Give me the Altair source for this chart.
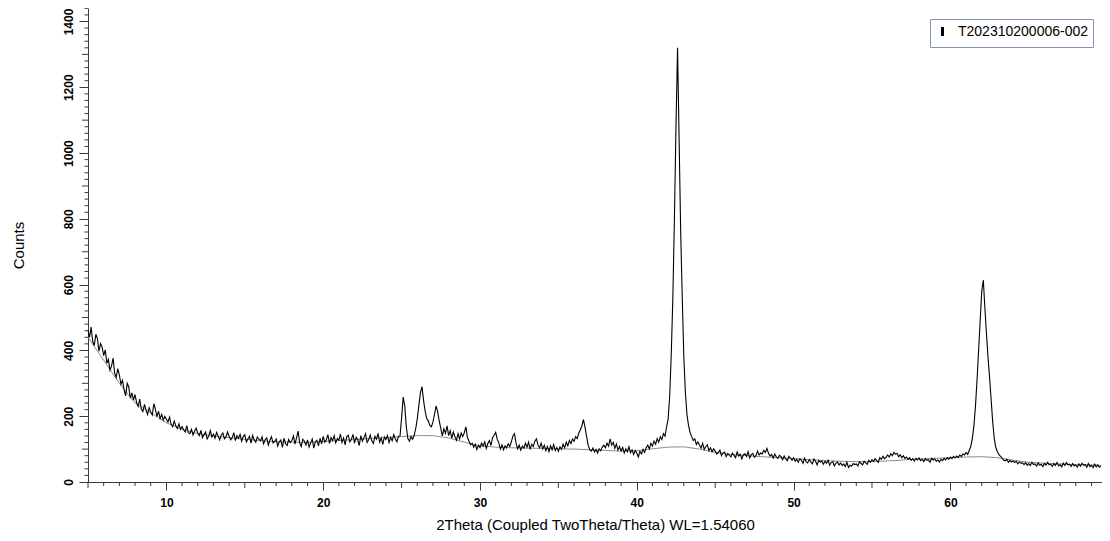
import altair as alt
import pandas as pd

SERIES_NAME = "T202310200006-002"

# measured counts, one row per degree (2Theta from 5.0 in steps of 0.1)
counts_rows = [
    [462, 440, 471, 428, 415, 449, 436, 398, 421, 410],  # 5
    [384, 402, 361, 373, 340, 352, 377, 331, 318, 345],  # 6
    [326, 297, 309, 281, 262, 300, 289, 255, 271, 249],  # 7
    [266, 241, 230, 252, 222, 214, 236, 219, 205, 226],  # 8
    [213, 204, 238, 221, 199, 215, 193, 206, 188, 200],  # 9
    [191, 182, 197, 176, 168, 185, 171, 163, 177, 160],  # 10
    [168, 159, 152, 171, 150, 147, 160, 143, 155, 164],  # 11
    [149, 141, 157, 135, 144, 152, 131, 140, 156, 137],  # 12
    [146, 133, 151, 140, 128, 143, 149, 131, 137, 152],  # 13
    [139, 128, 135, 150, 126, 141, 133, 145, 124, 138],  # 14
    [144, 122, 131, 139, 118, 142, 128, 121, 137, 130],  # 15
    [125, 137, 116, 129, 134, 112, 127, 138, 119, 123],  # 16
    [131, 109, 122, 128, 105, 133, 117, 111, 129, 120],  # 17
    [126, 140, 115, 134, 155, 119, 108, 130, 124, 112],  # 18
    [128, 106, 119, 131, 103, 122, 127, 110, 133, 116],  # 19
    [139, 121, 128, 144, 117, 135, 126, 141, 119, 132],  # 20
    [127, 146, 120, 134, 113, 138, 142, 122, 130, 145],  # 21
    [118, 136, 129, 111, 141, 124, 135, 147, 120, 128],  # 22
    [143, 125, 117, 139, 130, 148, 121, 134, 114, 137],  # 23
    [129, 141, 120, 136, 125, 144, 131, 122, 139, 140],  # 24
    [195, 258, 232, 168, 132, 124, 138, 130, 142, 162],  # 25
    [192, 232, 271, 290, 248, 216, 193, 186, 172, 168],  # 26
    [182, 206, 231, 214, 186, 163, 140, 162, 148, 171],  # 27
    [141, 156, 133, 152, 138, 127, 147, 131, 149, 138],  # 28
    [150, 168, 135, 124, 113, 118, 106, 115, 99, 112],   # 29
    [104, 118, 109, 122, 102, 117, 126, 111, 135, 142],  # 30
    [151, 130, 119, 100, 113, 98, 110, 104, 116, 108],   # 31
    [122, 140, 147, 118, 101, 112, 97, 109, 103, 118],   # 32
    [106, 121, 99, 115, 108, 124, 131, 112, 104, 118],   # 33
    [100, 112, 95, 108, 92, 110, 98, 114, 96, 105],      # 34
    [93, 107, 99, 115, 104, 121, 110, 126, 117, 131],    # 35
    [124, 138, 132, 149, 158, 171, 190, 166, 138, 112],  # 36
    [98, 94, 103, 91, 99, 88, 101, 95, 106, 112],        # 37
    [104, 118, 109, 131, 112, 120, 102, 116, 97, 108],   # 38
    [94, 105, 88, 101, 92, 107, 89, 98, 84, 96],         # 39
    [88, 76, 93, 85, 99, 90, 104, 112, 101, 118],        # 40
    [109, 124, 115, 132, 121, 138, 129, 147, 139, 168],  # 41
    [192, 262, 390, 560, 800, 1080, 1320, 1040, 760, 560],  # 42
    [380, 272, 205, 172, 150, 138, 126, 131, 114, 122],  # 43
    [112, 103, 118, 99, 108, 113, 95, 104, 92, 101],     # 44
    [94, 85, 90, 97, 80, 88, 91, 77, 86, 82],            # 45
    [76, 88, 81, 74, 91, 79, 84, 70, 83, 86],            # 46
    [78, 92, 73, 83, 87, 75, 80, 94, 82, 88],            # 47
    [85, 96, 90, 102, 87, 79, 84, 73, 85, 76],           # 48
    [72, 81, 77, 68, 79, 70, 65, 78, 73, 66],            # 49
    [74, 63, 69, 60, 71, 66, 57, 72, 62, 58],            # 50
    [68, 61, 55, 70, 63, 52, 66, 60, 64, 54],            # 51
    [63, 57, 66, 51, 59, 62, 49, 57, 61, 52],            # 52
    [58, 50, 55, 47, 60, 44, 51, 48, 56, 53],            # 53
    [55, 49, 61, 57, 52, 63, 58, 54, 66, 60],            # 54
    [68, 62, 71, 66, 60, 74, 69, 78, 71, 75],            # 55
    [82, 76, 86, 80, 90, 84, 87, 77, 83, 74],            # 56
    [80, 72, 76, 69, 74, 66, 71, 64, 72, 67],            # 57
    [73, 65, 69, 62, 71, 66, 68, 60, 72, 67],            # 58
    [70, 63, 67, 61, 69, 65, 72, 67, 74, 69],            # 59
    [76, 71, 78, 73, 79, 75, 82, 78, 85, 82],            # 60
    [90, 84, 96, 108, 132, 170, 230, 310, 400, 490],     # 61
    [580, 614, 530, 452, 380, 318, 250, 182, 132, 104],  # 62
    [92, 83, 78, 73, 66, 64, 69, 60, 66, 61],            # 63
    [64, 59, 63, 55, 61, 57, 58, 53, 59, 51],            # 64
    [56, 50, 60, 53, 55, 48, 58, 51, 54, 47],            # 65
    [57, 51, 60, 52, 54, 47, 56, 50, 59, 49],            # 66
    [53, 46, 57, 50, 59, 52, 54, 47, 56, 49],            # 67
    [52, 45, 55, 48, 57, 51, 53, 45, 56, 47],            # 68
    [51, 44, 54, 46, 52, 45, 49],                        # 69
]
theta_start = 5.0
theta_step = 0.1

# fitted background curve
bg_theta = [5, 6, 7, 8, 9, 10, 11, 12, 13, 14, 15, 16, 17, 18, 19, 20, 21, 22,
            23, 24, 25, 26, 27, 28, 29, 30, 31, 32, 33, 34, 35, 36, 37, 38, 39,
            40, 41, 42, 43, 44, 45, 46, 47, 48, 49, 50, 51, 52, 53, 54, 55, 56,
            57, 58, 59, 60, 61, 62, 63, 64, 65, 66, 67, 68, 69, 69.6]
bg_counts = [440, 370, 300, 240, 210, 180, 160, 147, 140, 135, 130, 126, 122,
             121, 120, 123, 126, 129, 132, 135, 138, 141, 141, 134, 121, 110,
             106, 104, 103, 102, 101, 100, 98, 96, 94, 95, 101, 106, 107, 100,
             90, 84, 80, 77, 74, 71, 68, 65, 63, 62, 62, 64, 67, 70, 72, 74, 76,
             77, 74, 66, 60, 57, 55, 53, 52, 51]

x_label_values = [10, 20, 30, 40, 50, 60]
y_label_values = [0, 200, 400, 600, 800, 1000, 1200, 1400]
x_minor_ticks = [v for v in range(6, 70) if v % 5 != 0]
x_mid_ticks = [5, 15, 25, 35, 45, 55, 65]
y_minor_ticks = [v for v in range(20, 1441, 20) if v % 100 != 0]
y_mid_ticks = [100, 300, 500, 700, 900, 1100, 1300]

counts = [c for row in counts_rows for c in row]
two_theta = [round(theta_start + theta_step * i, 1) for i in range(len(counts))]

df = pd.DataFrame({"two_theta": two_theta, "counts": counts, "series": SERIES_NAME})
bg_df = pd.DataFrame({"two_theta": bg_theta, "counts": bg_counts})

W, H = 1014, 474
FONT = "Liberation Sans"
AX = "#3a3a3a"

x_scale = alt.Scale(domain=[5, 69.67], nice=False, zero=False)
y_scale = alt.Scale(domain=[0, 1441], nice=False, zero=False)

x_axis = alt.Axis(values=x_label_values, format="d", tickSize=8, tickColor=AX,
                  domainColor=AX, labelFont=FONT, labelFontSize=12,
                  labelFontWeight="bold", labelColor="black", labelPadding=7,
                  title="2Theta (Coupled TwoTheta/Theta) WL=1.54060",
                  titleFont=FONT, titleFontSize=15, titleFontWeight="normal",
                  titleColor="black", titlePadding=9, grid=False)
y_axis = alt.Axis(values=y_label_values, format="d", tickSize=9, tickColor=AX,
                  domainColor=AX, labelFont=FONT, labelFontSize=12,
                  labelFontWeight="bold", labelColor="black", labelAngle=270,
                  labelAlign="center", labelBaseline="bottom", labelPadding=4,
                  title="Counts", titleFont=FONT, titleFontSize=15,
                  titleFontWeight="normal", titleColor="black", titlePadding=36,
                  grid=False)

line = alt.Chart(df).mark_line(strokeWidth=1.1, interpolate="linear").encode(
    x=alt.X("two_theta:Q", scale=x_scale, axis=x_axis),
    y=alt.Y("counts:Q", scale=y_scale, axis=y_axis),
    color=alt.Color("series:N", scale=alt.Scale(range=["black"]),
                    legend=alt.Legend(title=None, orient="none", legendX=842,
                                      legendY=11, padding=4,
                                      strokeColor="#8294b4", fillColor="white",
                                      cornerRadius=0,
                                      symbolType="M0,-0.65 L0,0.65",
                                      symbolSize=196, symbolStrokeWidth=3,
                                      labelFont=FONT, labelFontSize=14,
                                      labelColor="black", labelOffset=7)),
)

bg = alt.Chart(bg_df).mark_line(strokeWidth=1, color="#8c8c8c").encode(
    x=alt.X("two_theta:Q", scale=x_scale, axis=x_axis),
    y=alt.Y("counts:Q", scale=y_scale, axis=y_axis),
)

def x_ticks(vals, length):
    return alt.Chart(pd.DataFrame({"two_theta": vals})).mark_rule(color=AX, strokeWidth=1).encode(
        x=alt.X("two_theta:Q", scale=x_scale, axis=x_axis),
        y=alt.value(H), y2=alt.value(H + length),
    )

def y_ticks(vals, length):
    return alt.Chart(pd.DataFrame({"counts": vals})).mark_rule(color=AX, strokeWidth=1).encode(
        y=alt.Y("counts:Q", scale=y_scale, axis=y_axis),
        x=alt.value(0), x2=alt.value(-length),
    )

chart = alt.layer(
    bg, line,
    x_ticks(x_minor_ticks, 4), x_ticks(x_mid_ticks, 6),
    y_ticks(y_minor_ticks, 3.5), y_ticks(y_mid_ticks, 6),
).properties(
    width=W, height=H,
    autosize=alt.AutoSizeParams(type="none"),
    padding={"left": 80, "top": 0, "right": 0, "bottom": 51},
    background="white",
).configure_view(stroke=None)

chart.save("out.html", embed_options={"renderer": "svg", "actions": False})
